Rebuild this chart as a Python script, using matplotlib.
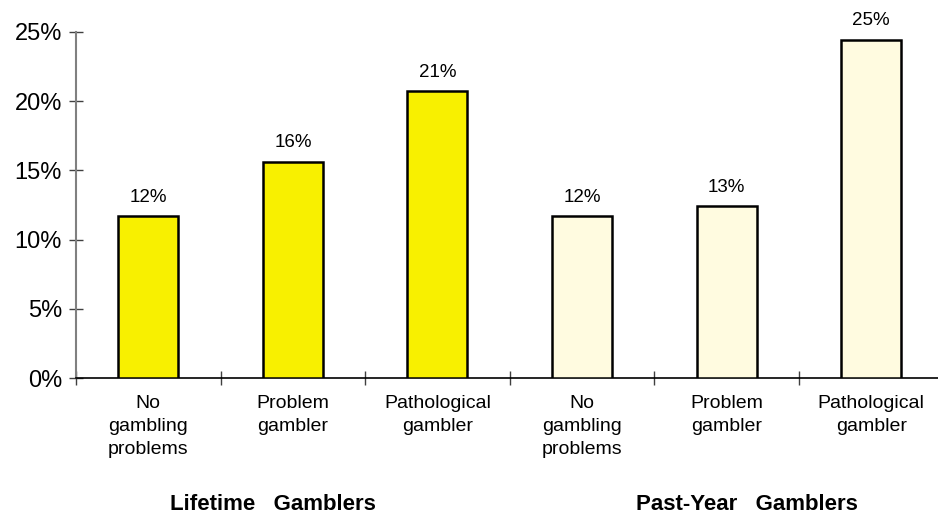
import matplotlib
matplotlib.use("Agg")
import matplotlib.pyplot as plt
from matplotlib.ticker import FixedLocator, FuncFormatter

plt.rcParams['font.family'] = ['Liberation Sans', 'DejaVu Sans']

categories = ["No\ngambling\nproblems", "Problem\ngambler", "Pathological\ngambler",
              "No\ngambling\nproblems", "Problem\ngambler", "Pathological\ngambler"]
values = [11.7, 15.6, 20.7, 11.7, 12.4, 24.4]
value_labels = ["12%", "16%", "21%", "12%", "13%", "25%"]
groups = ["Lifetime   Gamblers", "Past-Year   Gamblers"]
group_positions = [0.86, 4.14]
bar_colors = ["#f8f000", "#f8f000", "#f8f000", "#fffbe0", "#fffbe0", "#fffbe0"]
y_ticks = [0, 5, 10, 15, 20, 25]

fig = plt.figure(figsize=(9.38, 5.18), dpi=100)
ax = fig.add_axes([76/938, (518-378.3)/518, 867.5/938, (378.3-31.7)/518])

x = list(range(len(values)))
bars = ax.bar(x, values, width=0.415, color=bar_colors, edgecolor="black", linewidth=1.8, zorder=3)

for xi, v, lab in zip(x, values, value_labels):
    ax.annotate(lab, (xi, v), xytext=(0, 10.5), textcoords="offset points",
                ha="center", va="baseline", fontsize=13.5, color="black")

ax.set_xlim(-0.5, len(values) - 0.5)
ax.set_ylim(0, 25)
ax.set_yticks(y_ticks)
ax.yaxis.set_major_formatter(FuncFormatter(lambda v, p: f"{int(v)}%"))
ax.set_xticks(x)
ax.set_xticklabels(categories, fontsize=14, linespacing=1.45)
ax.xaxis.set_minor_locator(FixedLocator([i - 0.5 for i in range(len(values) + 1)]))
ax.tick_params(axis="x", which="major", length=0, pad=12)
ax.tick_params(axis="x", which="minor", direction="inout", length=10, width=1, color="#404040")
ax.tick_params(axis="y", which="major", direction="inout", length=10, width=1, labelsize=17, pad=5, color="#404040")

for s in ["top", "right"]:
    ax.spines[s].set_visible(False)
ax.spines["left"].set_color("#808080")
ax.spines["left"].set_linewidth(1.5)
ax.spines["bottom"].set_color("black")
ax.spines["bottom"].set_linewidth(1.2)

gy = -(505 - 378.3) / (378.3 - 31.7)
for g, gp in zip(groups, group_positions):
    ax.text(gp, gy, g, transform=ax.get_xaxis_transform(), ha="center", va="center",
            fontsize=16, fontweight="bold")

fig.savefig("out.png", dpi=100, facecolor="white")
